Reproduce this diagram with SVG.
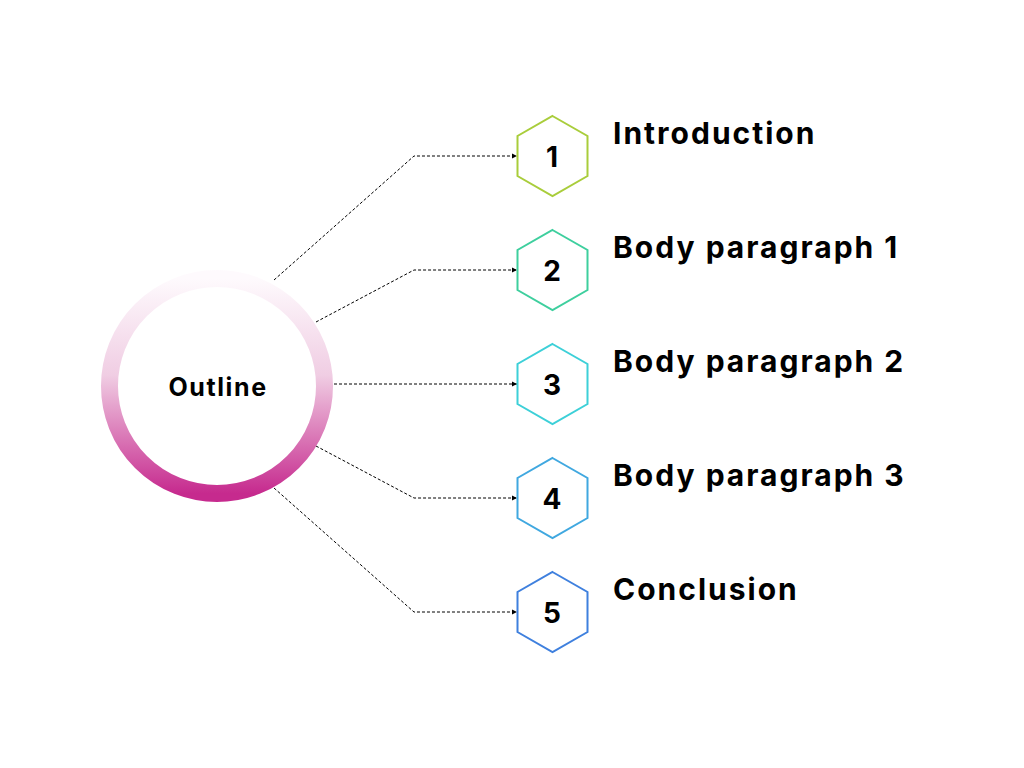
<svg xmlns="http://www.w3.org/2000/svg" width="1024" height="768" viewBox="0 0 1024 768">
<style>
.lbl{font-family:Inter,"Liberation Sans",sans-serif;font-weight:700;font-size:30px;fill:#000;letter-spacing:2px}
.num{font-family:Inter,"Liberation Sans",sans-serif;font-weight:700;font-size:28px;fill:#000;text-anchor:middle}
.hex{fill:#fff;stroke-width:2}
.conn{fill:none;stroke:#000;stroke-width:1;stroke-dasharray:3 2}
</style>
<defs>
<linearGradient id="ring" x1="0" y1="0" x2="0" y2="1">
<stop offset="0" stop-color="#fefafd"/>
<stop offset="0.45" stop-color="#f0cde3"/>
<stop offset="1" stop-color="#c62a8e"/>
</linearGradient>
<marker id="arr" markerWidth="6" markerHeight="6" refX="5" refY="3" orient="auto" markerUnits="userSpaceOnUse">
<path d="M0,0.5 L5,3 L0,5.5 Z" fill="#000"/>
</marker>
<polygon id="hx" points="0,-40 35,-20 35,20 0,40 -35,20 -35,-20"/>
</defs>
<rect width="1024" height="768" fill="#fff"/>
<g id="connectors">
<path class="conn" d="M274,280 L414,156 L517,156" marker-end="url(#arr)"/>
<path class="conn" d="M316,322 L414,270 L517,270" marker-end="url(#arr)"/>
<path class="conn" d="M334,384 L517,384" marker-end="url(#arr)"/>
<path class="conn" d="M316,446 L414,498 L517,498" marker-end="url(#arr)"/>
<path class="conn" d="M274,488 L414,612 L517,612" marker-end="url(#arr)"/>
</g>
<g id="outline">
<circle cx="217" cy="386" r="107.5" fill="#fff" stroke="url(#ring)" stroke-width="17"/>
<text x="218" y="396" class="lbl" style="font-size:25px;letter-spacing:1.6px" text-anchor="middle">Outline</text>
</g>
<g id="node1">
<use href="#hx" x="552.5" y="156" class="hex" stroke="#a9cd3b"/>
<text x="552" y="167" class="num">1</text>
<text x="613" y="144" class="lbl">Introduction</text>
</g>
<g id="node2">
<use href="#hx" x="552.5" y="270" class="hex" stroke="#3ecf9e"/>
<text x="552" y="281" class="num">2</text>
<text x="613" y="258" class="lbl">Body paragraph 1</text>
</g>
<g id="node3">
<use href="#hx" x="552.5" y="384" class="hex" stroke="#3dd0d8"/>
<text x="552" y="395" class="num">3</text>
<text x="613" y="372" class="lbl">Body paragraph 2</text>
</g>
<g id="node4">
<use href="#hx" x="552.5" y="498" class="hex" stroke="#40a8e0"/>
<text x="552" y="509" class="num">4</text>
<text x="613" y="486" class="lbl">Body paragraph 3</text>
</g>
<g id="node5">
<use href="#hx" x="552.5" y="612" class="hex" stroke="#3f80de"/>
<text x="552" y="623" class="num">5</text>
<text x="613" y="600" class="lbl">Conclusion</text>
</g>
</svg>
